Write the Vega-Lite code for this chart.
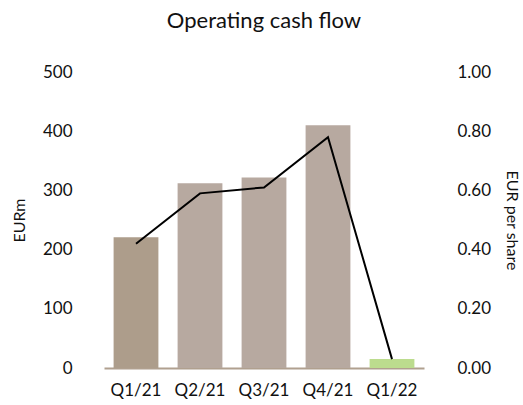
{
  "$schema": "https://vega.github.io/schema/vega-lite/v6.json",
  "autosize": {"type": "none"},
  "width": 320,
  "height": 296,
  "padding": {"left": 104, "top": 72, "right": 99, "bottom": 37},
  "background": "white",
  "config": {
    "view": {"stroke": null},
    "font": "Lato",
    "axis": {"labelFont": "Lato", "titleFont": "Lato", "labelColor": "#111111", "titleColor": "#111111", "grid": false, "ticks": false}
  },
  "title": {"text": "Operating cash flow", "fontSize": 22, "font": "Lato", "fontWeight": "normal", "color": "#111111", "offset": 30},
  "data": {
    "values": [
      {"quarter": "Q1/21", "ocf": 221, "eps": 0.42, "color": "#ad9d8b"},
      {"quarter": "Q2/21", "ocf": 312, "eps": 0.59, "color": "#b7a9a0"},
      {"quarter": "Q3/21", "ocf": 322, "eps": 0.61, "color": "#b7a9a0"},
      {"quarter": "Q4/21", "ocf": 410, "eps": 0.78, "color": "#b7a9a0"},
      {"quarter": "Q1/22", "ocf": 15, "eps": 0.03, "color": "#bcdc8e"}
    ]
  },
  "encoding": {
    "x": {
      "field": "quarter", "type": "nominal", "sort": null,
      "scale": {"paddingInner": 0.3, "paddingOuter": 0.15},
      "axis": {"title": null, "labelAngle": 0, "labelFontSize": 17, "labelPadding": 14, "domainColor": "#b0a08f", "domainWidth": 2}
    }
  },
  "layer": [
    {
      "mark": {"type": "bar"},
      "encoding": {
        "y": {
          "field": "ocf", "type": "quantitative",
          "scale": {"domain": [0, 500]},
          "axis": {"title": "EURm", "titleFontSize": 16, "titleFontWeight": "normal", "titlePadding": 15, "labelFontSize": 17, "labelPadding": 32, "domain": false, "values": [0, 100, 200, 300, 400, 500]}
        },
        "color": {"field": "color", "type": "nominal", "scale": null}
      }
    },
    {
      "mark": {"type": "line", "color": "black", "strokeWidth": 2},
      "encoding": {
        "y": {
          "field": "eps", "type": "quantitative",
          "scale": {"domain": [0, 1]},
          "axis": {"title": "EUR per share", "orient": "right", "titleFontSize": 16, "titleFontWeight": "normal", "titlePadding": 13, "labelFontSize": 17, "labelPadding": 33, "domain": false, "format": ".2f", "values": [0, 0.2, 0.4, 0.6, 0.8, 1.0]}
        }
      }
    }
  ],
  "resolve": {"scale": {"y": "independent"}}
}
